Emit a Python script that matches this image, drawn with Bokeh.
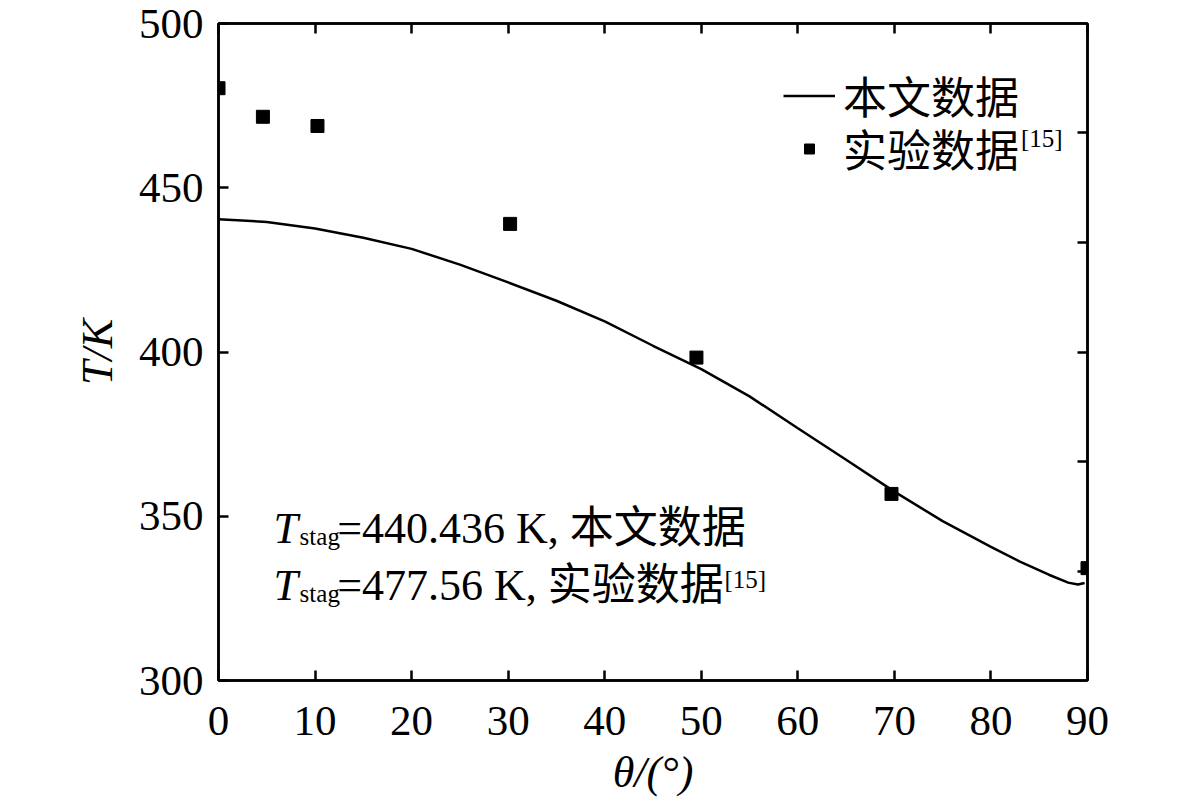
from bokeh.plotting import figure
from bokeh.models import (Range1d, LinearAxis, FixedTicker, Label, Legend,
                          LegendItem, CustomJSTickFormatter)
from bokeh.embed import file_html
from bokeh.resources import INLINE

# ---- data ----
theta_sim = [0, 5, 10, 15, 20, 25, 30, 35, 40, 45, 50, 55, 60, 65, 70, 75, 80, 83, 86, 88, 89, 89.7]
T_sim = [440.4, 439.6, 437.6, 434.8, 431.4, 426.6, 421.2, 415.6, 409.3, 401.9, 394.8,
         386.5, 376.8, 367.2, 357.5, 348.5, 340.7, 336.2, 332.2, 329.8, 329.2, 329.7]

theta_exp = [0, 4.6, 10.25, 30.2, 49.5, 69.7, 90]
T_exp = [480.3, 471.6, 468.8, 439.0, 398.3, 356.8, 334.2]

x_ticks = [0, 10, 20, 30, 40, 50, 60, 70, 80, 90]
y_ticks = [300, 350, 400, 450, 500]
right_ticks = [333.33, 366.67, 400, 433.33, 466.67]

series_names = ["本文数据", "实验数据"]
ref_mark = "[15]"
note_values = ["=440.436 K, 本文数据", "=477.56 K, 实验数据"]

FONT = "'Liberation Serif', 'Noto Sans CJK SC'"
FS = "44px"
TICK_FS = "43px"

p = figure(frame_width=869, frame_height=657,
           x_range=Range1d(0, 90), y_range=Range1d(300, 500),
           output_backend="svg", toolbar_location=None,
           min_border_left=218, min_border_right=86,
           min_border_top=23, min_border_bottom=100)
p.xgrid.visible = False
p.ygrid.visible = False
p.outline_line_color = "black"
p.outline_line_width = 2.5
p.background_fill_color = "white"
p.border_fill_color = "white"


def style_axis(ax, ticks, labels=True):
    ax.ticker = FixedTicker(ticks=ticks, minor_ticks=[])
    ax.major_tick_in = 10
    ax.major_tick_out = 0
    ax.minor_tick_line_color = None
    ax.axis_line_width = 2.5
    ax.major_tick_line_width = 2.5
    ax.axis_line_color = "black"
    ax.major_tick_line_color = "black"
    ax.major_label_text_font = FONT
    ax.major_label_text_font_size = TICK_FS
    ax.major_label_text_color = "black"
    ax.axis_label_text_font = FONT
    ax.axis_label_text_font_size = FS
    ax.axis_label_text_color = "black"
    ax.axis_label_text_font_style = "italic"
    if not labels:
        ax.formatter = CustomJSTickFormatter(code="return ''")


style_axis(p.xaxis[0], x_ticks)
p.xaxis[0].major_label_standoff = 26
p.xaxis[0].axis_label = "θ/(°)"
p.xaxis[0].axis_label_standoff = 10
style_axis(p.yaxis[0], y_ticks)
p.yaxis[0].major_label_standoff = 15
p.yaxis[0].axis_label = "T/K"
p.yaxis[0].axis_label_standoff = 14

top = LinearAxis()
style_axis(top, x_ticks, labels=False)
p.add_layout(top, "above")
right = LinearAxis()
style_axis(right, right_ticks, labels=False)
p.add_layout(right, "right")

r_line = p.line(theta_sim, T_sim, line_width=2.5, line_color="black")
r_pts = p.scatter(theta_exp, T_exp, marker="square", size=13,
                  fill_color="black", line_color="black")

legend_style = dict(padding=0, margin=0, spacing=0,
                    glyph_width=52, glyph_height=25, label_height=25,
                    label_standoff=8, border_line_alpha=0, background_fill_alpha=0,
                    label_text_font=FONT, label_text_font_size=FS,
                    label_text_color="black")
legend1 = Legend(items=[LegendItem(label=series_names[0], renderers=[r_line])],
                 location=(565, 553), **legend_style)
legend2 = Legend(items=[LegendItem(label=series_names[1], renderers=[r_pts])],
                 location=(565, 500), **legend_style)
p.add_layout(legend1)
p.add_layout(legend2)

# superscript reference mark in legend
p.add_layout(Label(x=83.1, y=465.0, text=ref_mark, text_font=FONT,
                   text_font_size="25px", text_baseline="alphabetic",
                   text_color="black"))

# annotation lines
for yb, txt in [(346.3, note_values[0]), (328.9, note_values[1])]:
    p.add_layout(Label(x=5.7, y=yb, text="T", text_font=FONT, text_font_style="italic",
                       text_font_size=FS, text_baseline="alphabetic", text_color="black"))
    p.add_layout(Label(x=8.4, y=yb - 2.5, text="stag", text_font=FONT,
                       text_font_size="25px", text_baseline="alphabetic",
                       text_color="black"))
    p.add_layout(Label(x=12.3, y=yb, text=txt, text_font=FONT,
                       text_font_size=FS, text_baseline="alphabetic", text_color="black"))
p.add_layout(Label(x=52.4, y=330.8, text=ref_mark, text_font=FONT,
                   text_font_size="25px", text_baseline="alphabetic", text_color="black"))

open("out.html", "w").write(file_html(p, INLINE))
